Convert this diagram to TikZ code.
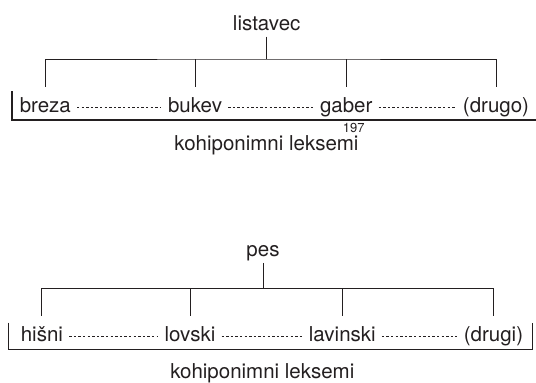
\documentclass[tikz,border=0pt]{standalone}
\usepackage{fontspec}
\setmainfont{TeX Gyre Heros}
\usepackage{xcolor}
\usepackage{tikz}
\usetikzlibrary{positioning}
\definecolor{ink}{HTML}{231F20}

\begin{document}
\begin{tikzpicture}[x=1pt, y=-1pt,
  word/.style={anchor=base, inner sep=2pt, text depth=4pt, text=ink,
               font=\fontsize{20.5}{24}\selectfont},
  leaf/.style={word, text height=15pt, text depth=4.5pt, inner xsep=2pt, inner ysep=10.7pt},
  tree/.style={draw=ink, line width=0.85pt},
  dots/.style={draw=ink, line width=0.7pt, dash pattern=on 2.4pt off 2.2pt,
               shorten <=4pt, shorten >=5pt},
  bracket/.style={draw=ink, line width=1.1pt},
  pagenum/.style={anchor=base, inner sep=0pt, text=ink, font=\fontsize{13}{15}\selectfont}
]
\useasboundingbox (0,0) rectangle (536,383);

% listavec
\node[word] (lis) at (266.7,30.5) {listavec};
\node[leaf] (bre) at (45.3,112.7) {breza};
\node[leaf] (buk) at (195,112.7) {bukev};
\node[leaf] (gab) at (346.3,112.7) {gaber};
\node[leaf] (dru) at (496,112.7) {(drugo)};
\coordinate (fork1) at (266.7,59);

\draw[tree] (lis.south) -- (fork1);
\draw[tree] (bre.north) |- (fork1) -| (dru.north);
\draw[tree] (buk.north) -- (buk.north |- fork1);
\draw[tree] (gab.north) -- (gab.north |- fork1);
\draw[dots] (bre) -- (buk);
\draw[dots] (buk) -- (gab);
\draw[dots] (gab) -- (dru);

\draw[bracket] (12,91) |- (536,120);
\node[pagenum] (num) at (353.8,132.7) {197};
\node[word] (koh1) at (266.5,150.7) {kohiponimni leksemi};

% pes
\node[word] (pes) at (263,256.7) {pes};
\node[leaf] (his) at (41.9,341.7) {hišni};
\node[leaf] (lov) at (190,341.7) {lovski};
\node[leaf] (lav) at (342.3,341.7) {lavinski};
\node[leaf] (drg) at (493.5,341.7) {(drugi)};
\coordinate (fork2) at (263,288.3);

\draw[tree] (pes.south) -- (fork2);
\draw[tree] (his.north) |- (fork2) -| (drg.north);
\draw[tree] (lov.north) -- (lov.north |- fork2);
\draw[tree] (lav.north) -- (lav.north |- fork2);
\draw[dots] (his) -- (lov);
\draw[dots] (lov) -- (lav);
\draw[dots] (lav) -- (drg);

\draw[bracket] (8.5,322.7) |- (532.7,349.5) -- (532.7,322.7);
\node[word] (koh2) at (262.3,378.3) {kohiponimni leksemi};
\end{tikzpicture}
\end{document}
